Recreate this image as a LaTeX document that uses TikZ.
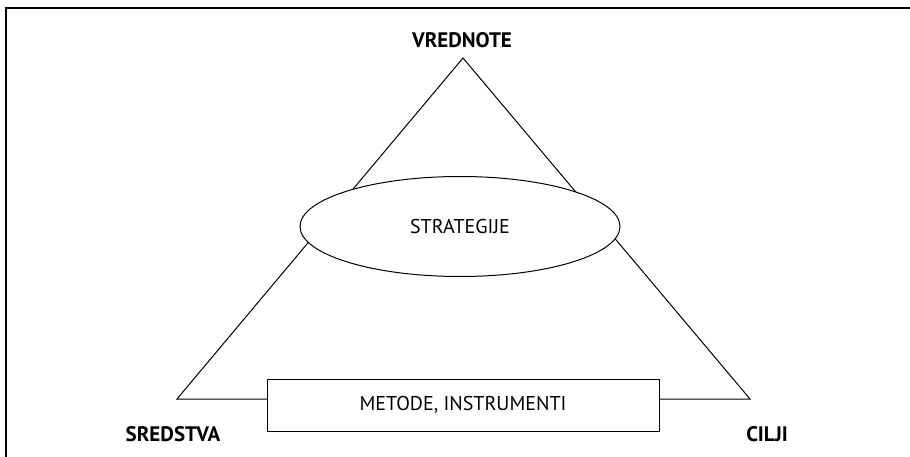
\documentclass[tikz,border=0pt]{standalone}
\usepackage{fontspec}
\setmainfont{PT Sans}
\usetikzlibrary{shapes.geometric}
\tikzset{
  corner/.style={font=\fontsize{21}{21}\selectfont\bfseries},
  inner/.style={draw,fill=white,line width=1pt,font=\fontsize{20}{20}\selectfont}
}

\begin{document}
\begin{tikzpicture}[x=1pt,y=-1pt]
	  \useasboundingbox (0,0) rectangle (910,457);
	  % frame
	  \draw [line width=1.5pt] (910,8) -- (6,8) -- (6,457);
	  % triangle corners
	  \coordinate (top) at (463,58);
	  \coordinate (left) at (177,399);
	  \coordinate (right) at (750,399);
	  \draw [line width=1pt] (left) -- (top) -- (right) -- cycle;
	  \node [corner] (vrednote) at (462,40) {VREDNOTE};
	  \node [corner] (sredstva) at (173,434) {SREDSTVA};
	  \node [corner] (cilji) at (767,434) {CILJI};
	  % ellipse and box
	  \node [inner,ellipse,minimum width=320pt,minimum height=100pt] (strat) at (460,226.5) {STRATEGIJE};
	  \node [inner,rectangle,minimum width=392pt,minimum height=52pt] (metode) at (463,405) {METODE, INSTRUMENTI};
\end{tikzpicture}
\end{document}
